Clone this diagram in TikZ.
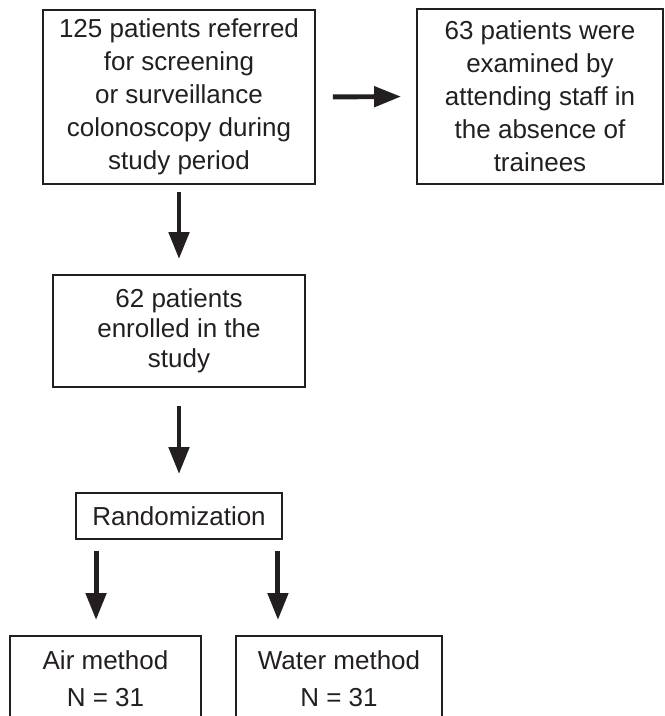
\documentclass[tikz,border=0pt]{standalone}
\usepackage{fontspec}
\setmainfont{Liberation Sans}
\usetikzlibrary{arrows.meta,positioning,calc}
\definecolor{ink}{HTML}{231F20}

\begin{document}
\begin{tikzpicture}
    [x=0.02cm, y=-0.02cm,
    box/.style={draw=ink, line width=1.1pt, text=ink, align=center, inner sep=0pt,
        font=\fontsize{14.8}{18.8}\selectfont},
    box2/.style={box, font=\fontsize{14.8}{21}\selectfont},
    arr/.style={ink, line width=2.8pt, -{Triangle[length=0.54cm,width=0.4cm]}}]
%    \draw[help lines] (0,0) grid[step=50] (665,716);

    \node[box, minimum width=5.44cm, minimum height=3.48cm] (referred) at (179,97)
        {125 patients referred\\for screening\\or surveillance\\colonoscopy during\\study period};
    \node[box, minimum width=4.92cm, minimum height=3.5cm] (attending) at (540,96.5)
        {63 patients were\\examined by\\attending staff in\\the absence of\\trainees};
    \node[box, minimum width=5.04cm, minimum height=2.24cm,
        font=\fontsize{14.8}{17}\selectfont] (enrolled) at (179,331)
        {62 patients\\enrolled in the\\study};
    \node[box, minimum width=4.12cm, minimum height=0.92cm] (rand) at (179,516)
        {Randomization};
    \node[box2, anchor=north, minimum width=3.82cm, minimum height=1.72cm] (air) at (105.5,635)
        {Air method\\N = 31};
    \node[box2, anchor=north, minimum width=4.12cm, minimum height=1.72cm] (water) at (339,635)
        {Water method\\N = 31};

    \draw[arr, shorten <=0.34cm, shorten >=0.3cm] (referred.east) -- (attending.west);
    \draw[arr, shorten <=0.14cm, shorten >=0.3cm] (referred.south) -- (enrolled.north);
    \draw[arr, shorten <=0.36cm, shorten >=0.36cm] (enrolled.south) -- (rand.north);
    \draw[arr, shorten <=0.22cm, shorten >=0.3cm]
        ([xshift=0.42cm]rand.south west) -- ([xshift=0.42cm]rand.south west |- air.north);
    \draw[arr, shorten <=0.22cm, shorten >=0.3cm]
        ([xshift=-0.1cm]rand.south east) -- ([xshift=-0.1cm]rand.south east |- water.north);

    \pgfresetboundingbox
    \useasboundingbox (0,0) rectangle (665,716);
\end{tikzpicture}
\end{document}
